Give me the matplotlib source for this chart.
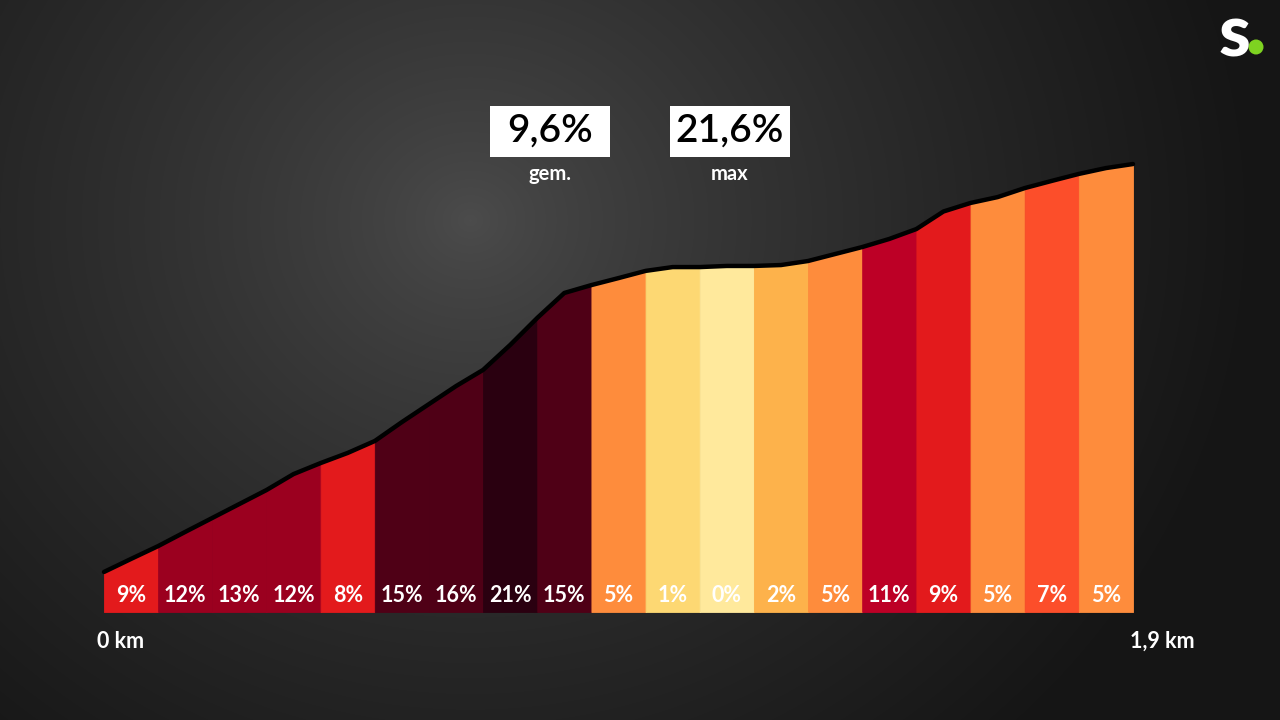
import numpy as np
import matplotlib
matplotlib.use("Agg")
import matplotlib.pyplot as plt
from matplotlib.patches import Rectangle, Ellipse
import matplotlib.transforms as mtransforms

plt.rcParams['font.family'] = ['Lato', 'DejaVu Sans']

# profile (km, m above baseline)
dist_km = [0.0, 0.05, 0.1, 0.15, 0.2, 0.25, 0.3, 0.35, 0.4, 0.45, 0.5, 0.55, 0.6,
           0.65, 0.7, 0.75, 0.8, 0.85, 0.9, 0.95, 1.0, 1.05, 1.1, 1.15, 1.2, 1.25,
           1.3, 1.35, 1.4, 1.45, 1.5, 1.55, 1.6, 1.65, 1.7, 1.75, 1.8, 1.85, 1.9]
elev_m = [17.8, 23.6, 29.3, 35.6, 41.8, 48.0, 54.2, 61.3, 66.2, 70.7, 76.0, 84.4, 92.4,
          100.4, 107.6, 118.7, 130.7, 141.8, 145.3, 148.4, 151.6, 153.3, 153.3, 153.8, 153.8, 154.2,
          156.0, 159.1, 162.2, 165.8, 170.2, 178.0, 181.8, 184.4, 188.4, 191.6, 194.7, 197.3, 199.1]

# gradient per 100 m
seg_grad = [9, 12, 13, 12, 8, 15, 16, 21, 15, 5, 1, 0, 2, 5, 11, 9, 5, 7, 5]
seg_colors = ['#e31a1c', '#9b001f', '#9b001f', '#9b001f', '#e31a1c', '#4f0016', '#4f0016',
              '#2a0010', '#4f0016', '#fe8c3c', '#fdd873', '#ffe99c', '#fdb24b', '#fe8c3c',
              '#bd0026', '#e31a1c', '#fe8c3c', '#fc4e2a', '#fe8c3c']
seg_len = 0.1

avg_label = '9,6%'
max_label = '21,6%'
start_label = '0 km'
end_label = '1,9 km'

W, H = 1280, 720
fig = plt.figure(figsize=(12.8, 7.2), dpi=100)

# radial background
bg = fig.add_axes([0, 0, 1, 1])
yy, xx = np.mgrid[0:H, 0:W]
r = np.sqrt((xx - 470) ** 2 + ((yy - 220) * 1.1) ** 2)
t = np.clip(r / 780, 0, 1)
lum = 0.30 - (0.30 - 0.085) * t ** 0.75
bg.imshow(np.dstack([lum, lum, lum]), extent=[0, W, H, 0], aspect='auto')
bg.set_xlim(0, W)
bg.set_ylim(H, 0)
bg.axis('off')

# main profile axes: x 0..1.9 km -> px 104..1133, y 0..200 -> px 612..162
ax = fig.add_axes([104 / W, (H - 612) / H, (1133 - 104) / W, 450 / H])
ax.set_xlim(0, 1.9)
ax.set_ylim(0, 200)
ax.axis('off')
ax.patch.set_alpha(0)

d = np.array(dist_km)
e = np.array(elev_m)
for i, (g, c) in enumerate(zip(seg_grad, seg_colors)):
    x0, x1 = i * seg_len, (i + 1) * seg_len
    xs = np.concatenate([[x0], d[(d > x0) & (d < x1)], [x1]])
    ys = np.interp(xs, d, e)
    ax.fill_between(xs, 0, ys, color=c, linewidth=0.6, edgecolor=c)

ax.plot(d, e, color='black', lw=3.2, solid_capstyle='round', solid_joinstyle='round',
        clip_on=False, zorder=5)

trans = mtransforms.blended_transform_factory(ax.transData, fig.transFigure)
for i, g in enumerate(seg_grad):
    ax.text((i + 0.5) * seg_len, (H - 595) / H, f'{g}%', transform=trans,
            ha='center', va='center', color='white', fontsize=15.5, fontweight='bold', zorder=6)

fig.text(97 / W, (H - 641) / H, start_label, ha='left', va='center',
         color='white', fontsize=15.5, fontweight='bold')
fig.text(1195 / W, (H - 641) / H, end_label, ha='right', va='center',
         color='white', fontsize=15.5, fontweight='bold')

# stat boxes
for x0, x1, val, lab in [(490, 610, avg_label, 'gem.'), (670, 790, max_label, 'max')]:
    fig.patches.append(Rectangle((x0 / W, (H - 157) / H), (x1 - x0) / W, 51 / H,
                                 transform=fig.transFigure, facecolor='white', edgecolor='none'))
    fig.text((x0 + x1) / 2 / W, (H - 131) / H, val, ha='center', va='center',
             color='black', fontsize=28, fontweight='semibold')
    fig.text((x0 + x1) / 2 / W, (H - 174) / H, lab, ha='center', va='center',
             color='white', fontsize=14.5, fontweight='bold')

# logo
fig.text(1234 / W, (H - 36) / H, 's', ha='center', va='center', color='white',
         fontsize=52, fontweight='black')
px = fig.dpi_scale_trans
fig.patches.append(Ellipse((12.56, 7.2 - 0.47), 0.15, 0.15, transform=px,
                           facecolor='#7ed321', edgecolor='none'))

fig.savefig('out.png', dpi=100)
